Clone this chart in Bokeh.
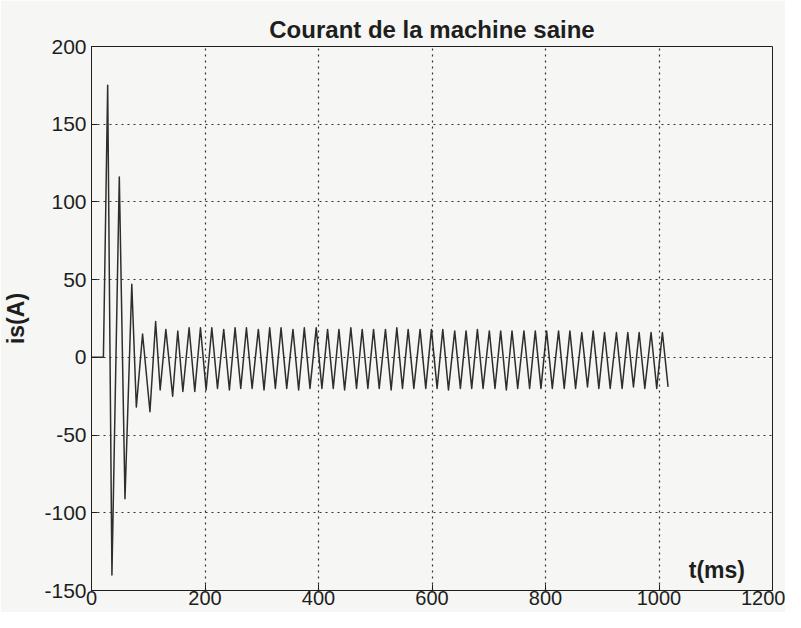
from bokeh.plotting import figure
from bokeh.models import Range1d, FixedTicker
from bokeh.core.properties import value
from bokeh.embed import file_html
from bokeh.resources import INLINE

# ---- data (t in ms, current in A) ----
t_transient = [0, 21, 28.5, 36, 49, 59, 71, 79, 90, 103, 113, 121, 131, 143, 152, 161, 172, 182, 192, 202]
i_transient = [0, 0, 175, -140, 116, -91, 47, -32, 15, -35, 23, -21, 18, -25, 17, -22, 19, -22, 19, -21]

t_peaks = [212, 233, 253, 273, 294, 314, 334, 355, 375, 396,
           416, 436, 457, 477, 497, 518, 538, 558, 579, 599,
           619, 640, 660, 680, 701, 721, 741, 762, 782, 802,
           823, 843, 864, 884, 904, 925, 945, 965, 986, 1006]
i_peaks = [19, 18, 19, 19, 18, 19, 19, 18, 19, 19,
           18, 18, 19, 18, 18, 18, 19, 18, 18, 18,
           18, 17, 17, 18, 17, 17, 17, 17, 17, 17,
           17, 17, 16, 17, 16, 16, 16, 16, 16, 16]
t_troughs = [222, 243, 263, 283, 304, 324, 344, 365, 385, 406,
             426, 446, 467, 487, 507, 528, 548, 568, 589, 609,
             629, 650, 670, 690, 711, 731, 751, 772, 792, 812,
             833, 853, 874, 894, 914, 935, 955, 975, 996, 1016]
i_troughs = [-20, -21, -20, -20, -21, -20, -20, -21, -20, -20,
             -20, -21, -20, -20, -20, -21, -20, -20, -20, -20,
             -21, -20, -20, -20, -20, -21, -20, -20, -20, -20,
             -20, -20, -19, -20, -20, -20, -19, -20, -20, -19]

x_ticks = [0, 200, 400, 600, 800, 1000, 1200]
y_ticks = [-150, -100, -50, 0, 50, 100, 150, 200]
y_tick_labels = ["-150", "-100", "-50", "0", "50", "100", "150", "200"]

title_text = "Courant de la machine saine"
y_label = "is(A)"
x_label = "t(ms)"

# build the full series
t_all = list(t_transient)
i_all = list(i_transient)
for tp, ip, tt, it in zip(t_peaks, i_peaks, t_troughs, i_troughs):
    t_all += [tp, tt]
    i_all += [ip, it]

BG = "#f6f6f4"
INK = "#1e1e1e"
FONT = "Liberation Sans"

p = figure(width=785, height=612, output_backend="svg", toolbar_location=None,
           x_range=Range1d(0, 1200), y_range=Range1d(-150, 200),
           min_border_left=85, min_border_right=13, min_border_top=46, min_border_bottom=22,
           background_fill_color=BG, border_fill_color=BG)

p.title.text = title_text
p.title.align = "center"
p.title.text_font = FONT
p.title.text_font_size = "24px"
p.title.text_font_style = "bold"
p.title.text_color = INK
p.title.standoff = 8

p.outline_line_color = INK
p.outline_line_width = 1

for ax in [p.xaxis[0], p.yaxis[0]]:
    ax.major_tick_in = 6
    ax.major_tick_out = 0
    ax.minor_tick_in = 0
    ax.minor_tick_out = 0
    ax.axis_line_color = INK
    ax.major_tick_line_color = INK
    ax.major_label_text_font = FONT
    ax.major_label_text_font_size = "21px"
    ax.major_label_text_color = INK

p.xaxis[0].major_label_text_font_size = "20px"
p.xaxis[0].ticker = FixedTicker(ticks=x_ticks)
p.yaxis[0].ticker = FixedTicker(ticks=y_ticks)
p.yaxis[0].major_label_overrides = {t: s for t, s in zip(y_ticks, y_tick_labels)}
p.xaxis[0].major_label_standoff = 0
p.yaxis[0].major_label_standoff = 5

p.yaxis[0].axis_label = y_label
p.yaxis[0].axis_label_text_font = FONT
p.yaxis[0].axis_label_text_font_size = "23px"
p.yaxis[0].axis_label_text_font_style = "bold"
p.yaxis[0].axis_label_text_color = INK
p.yaxis[0].axis_label_standoff = 12

p.xgrid.ticker = FixedTicker(ticks=x_ticks)
p.ygrid.ticker = FixedTicker(ticks=y_ticks)
for g in [p.xgrid[0], p.ygrid[0]]:
    g.grid_line_color = "#333333"
    g.grid_line_dash = "2 4"
    g.grid_line_width = 1.2

p.line(t_all, i_all, line_color="#2e2e2e", line_width=1.5, line_join="round")

p.text(x=[1102], y=[-137], text=[x_label], text_align="center", text_baseline="middle",
       text_font=value(FONT), text_font_size="23px", text_font_style="bold",
       text_color=INK)

open("out.html", "w").write(file_html(p, INLINE))
